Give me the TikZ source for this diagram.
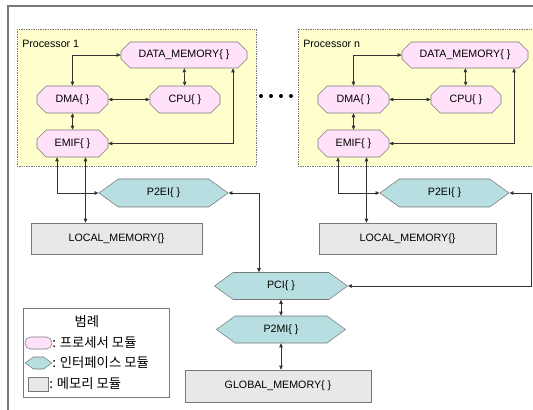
\documentclass[tikz,border=0pt]{standalone}
\usepackage{fontspec}
\setmainfont{Liberation Sans}
\newfontfamily\kor{Noto Sans CJK KR}
\usetikzlibrary{arrows.meta,calc,shapes.misc,shapes.symbols}

\definecolor{procfill}{RGB}{255,255,206}
\definecolor{modfill}{RGB}{255,226,250}
\definecolor{iffill}{RGB}{183,222,224}
\definecolor{memfill}{RGB}{232,232,232}
\definecolor{edgegray}{RGB}{120,120,120}

\tikzset{
  procbox/.style={draw=edgegray, fill=procfill, dash pattern=on 1pt off 0.8pt},
  module/.style={chamfered rectangle, chamfered rectangle sep=3.5pt, draw=edgegray, fill=modfill,
    inner sep=0pt, minimum width=53.25pt, minimum height=20.25pt},
  iface/.style={signal, signal to=east and west, signal pointer angle=72, draw=edgegray, fill=iffill,
    inner sep=0pt, minimum width=96.75pt, minimum height=20.25pt},
  memory/.style={rectangle, draw=edgegray, fill=memfill, inner sep=0pt, minimum height=23.25pt},
  link/.style={<->, draw=black!80, line width=0.5pt},
  legtext/.style={anchor=west, inner sep=0pt, font=\kor\fontsize{10}{12}\selectfont}
}

\begin{document}
\begin{tikzpicture}[x=0.75pt, y=-0.75pt, font=\fontsize{8}{10}\selectfont,
  >={Triangle[length=3pt, width=2.6pt]}]
  \useasboundingbox (0,0) rectangle (533,410);
  \clip (0,0) rectangle (533,410);
  \fill[white] (0,0) rectangle (533,410);
  \draw[edgegray, line width=0.8pt] (8,6) rectangle (560,430);

  % processor blocks (the second one runs off the right edge)
  \foreach \x/\n/\r in {0/1/256, 281/n/320}{
    \begin{scope}[shift={(\x,0)}]
      \draw[procbox] (17,29) rectangle (\r,166);
      \node[anchor=west, inner sep=0pt] (title\n) at (22,44) {Processor \n};
      \node[module, minimum width=94.5pt, minimum height=19.5pt] (data\n) at (184,55) {DATA\_MEMORY\{ \}};
      \node[module] (dma\n) at (72.5,99.5) {DMA\{ \}};
      \node[module, minimum width=52.5pt] (cpu\n) at (185,99.5) {CPU\{ \}};
      \node[module] (emif\n) at (72.5,143.5) {EMIF\{ \}};
      \node[iface, minimum height=21pt] (pe\n) at (163.5,193) {P2EI\{ \}};
      \draw[link] (dma\n.north) |- (data\n.west);
      \draw[link] (cpu\n) -- (data\n);
      \draw[link] (dma\n) -- (cpu\n);
      \draw[link] (dma\n) -- (emif\n);
      \draw[link] (emif\n.east) -| ($(data\n.south)+(49,0)$);
      \draw[link] ($(emif\n.south)+(-15.5,0)$) |- (pe\n.west);
      \coordinate (tap\n) at ($(emif\n.south)+(13,0)$);
    \end{scope}
  }
  \foreach \d in {261,271,281,291}
    \fill (\d,96) circle (1.5pt);

  % memories and bus interfaces
  \node[memory, minimum width=128.25pt] (local1) at (116.5,238.5) {LOCAL\_MEMORY\{\}};
  \node[memory, minimum width=132.75pt] (localn) at (407.5,238.5) {LOCAL\_MEMORY\{\}};
  \node[iface, minimum width=99.75pt] (pci) at (281,286) {PCI\{ \}};
  \node[iface] (p2mi) at (281,329.5) {P2MI\{ \}};
  \node[memory, minimum width=139.5pt, minimum height=24pt] (glob) at (278,386) {GLOBAL\_MEMORY\{ \}};

  \draw[link] (tap1) -- (tap1 |- local1.north);
  \draw[link] (tapn) -- (tapn |- localn.north);
  \draw[link] (pe1.east) -| ($(pci.north)+(-22,0)$);
  \draw[link] (pen.east) -- ++(22,0) |- (pci.east);
  \draw[link] (pci.south) -- (p2mi.north);
  \draw[link] (p2mi.south) -- (p2mi.south |- glob.north);

  % legend
  \draw[edgegray, fill=white] (23,308) rectangle (169,397);
  \node[legtext, anchor=center] (legtitle) at (87,322) {범례};
  \node[draw=edgegray, fill=modfill, rounded corners=4pt, minimum width=20pt, minimum height=9pt,
    inner sep=0pt] (keymod) at (38.5,343) {};
  \node[legtext] (txtmod) at (52,343) {: 프로세서 모듈};
  \node[iface, minimum width=20pt, minimum height=9pt] (keyif) at (38.5,363) {};
  \node[legtext] (txtif) at (52,363) {: 인터페이스 모듈};
  \node[memory, minimum width=15pt, minimum height=10.5pt] (keymem) at (38,384) {};
  \node[legtext] (txtmem) at (49,384) {: 메모리 모듈};
\end{tikzpicture}
\end{document}
